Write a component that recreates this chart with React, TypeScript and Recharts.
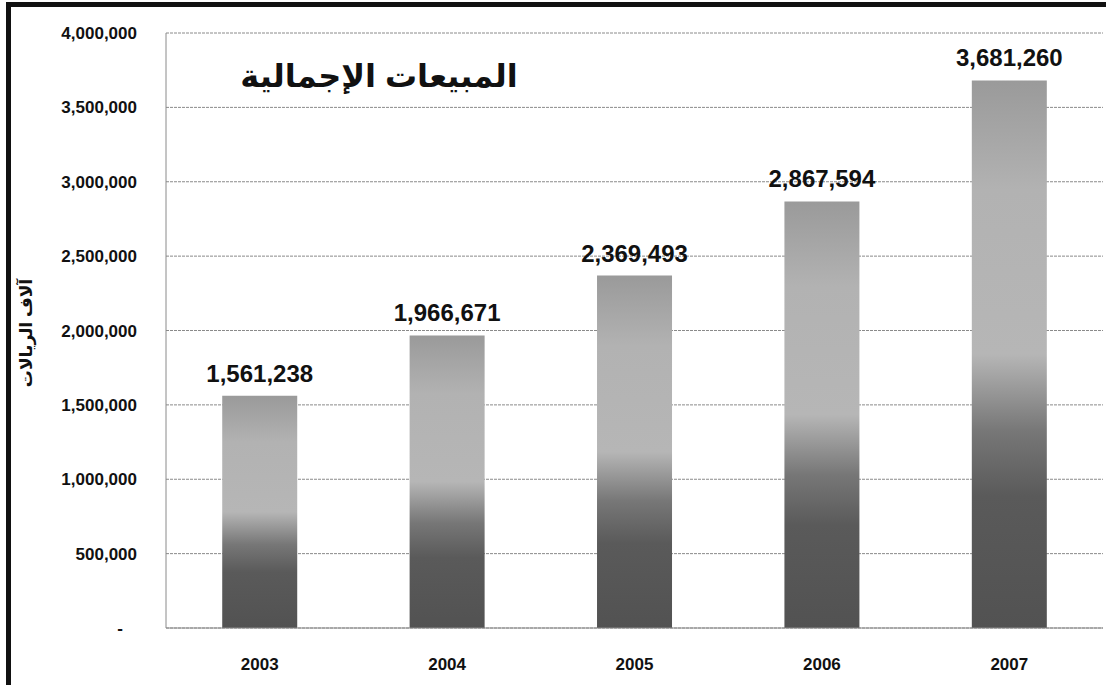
import React from 'react';
import { BarChart, Bar, XAxis, YAxis, CartesianGrid, LabelList } from 'recharts';

// Total sales, in thousands of riyals
const years = ['2003', '2004', '2005', '2006', '2007'];
const sales = [1561238, 1966671, 2369493, 2867594, 3681260];
const yTicks = [0, 500000, 1000000, 1500000, 2000000, 2500000, 3000000, 3500000, 4000000];

const chartTitle = 'المبيعات الإجمالية';
const yAxisTitle = 'آلاف الريالات';

const data = years.map((year, i) => ({ year, sales: sales[i] }));

const FONT = "'Liberation Sans', Arial, 'DejaVu Sans', sans-serif";

const fmt = (v: number) => (v === 0 ? '-\u00A0\u00A0\u00A0' : v.toLocaleString('en-US'));

const App: React.FC = () => {
  return (
    <div style={{ position: 'absolute', left: 0, top: 0, width: 1106, height: 685, background: '#fff', overflow: 'hidden' }}>
      <div
        style={{
          position: 'absolute',
          left: 6,
          top: 2,
          width: 1200,
          height: 800,
          borderLeft: '5px solid #111',
          borderTop: '5px solid #111',
        }}
      />
      <div
        dir="rtl"
        style={{
          position: 'absolute',
          left: 179,
          top: 52,
          width: 400,
          textAlign: 'center',
          whiteSpace: 'nowrap',
          fontFamily: FONT,
          fontWeight: 'bold',
          fontSize: 32,
          color: '#111',
          lineHeight: '48px',
          zIndex: 2,
        }}
      >
        {chartTitle}
      </div>
      <BarChart
        width={1106}
        height={685}
        data={data}
        margin={{ top: 33, right: 3, left: 0, bottom: 27 }}
        barCategoryGap="30%"
      >
        <defs>
          <linearGradient id="barShade" x1="0" y1="0" x2="0" y2="1">
            <stop offset="0%" stopColor="#9a9a9a" />
            <stop offset="20%" stopColor="#b2b2b2" />
            <stop offset="50%" stopColor="#b6b6b6" />
            <stop offset="64%" stopColor="#777777" />
            <stop offset="76%" stopColor="#5a5a5a" />
            <stop offset="100%" stopColor="#525252" />
          </linearGradient>
        </defs>
        <CartesianGrid vertical={false} stroke="#8a8a8a" strokeDasharray="3 1" />
        <XAxis
          dataKey="year"
          height={30}
          axisLine={{ stroke: '#8a8a8a' }}
          tickLine={false}
          tickMargin={24}
          tick={{ fontSize: 17, fontWeight: 'bold', fill: '#111', fontFamily: FONT }}
        />
        <YAxis
          width={166}
          domain={[0, 4000000]}
          ticks={yTicks}
          tickFormatter={fmt}
          axisLine={{ stroke: '#8a8a8a' }}
          tickLine={false}
          tickSize={0}
          tickMargin={29}
          tick={{ fontSize: 17, fontWeight: 'bold', fill: '#111', fontFamily: FONT }}
          label={{
            content: () => (
              <text
                x={28}
                y={333}
                transform="rotate(-90 28 333)"
                textAnchor="middle"
                dominantBaseline="middle"
                fontSize={17}
                fontWeight="bold"
                fill="#111"
                fontFamily={FONT}
              >
                {yAxisTitle}
              </text>
            ),
          }}
        />
        <Bar dataKey="sales" fill="url(#barShade)" isAnimationActive={false}>
          <LabelList
            dataKey="sales"
            position="top"
            offset={14}
            formatter={(v: any) => Number(v).toLocaleString('en-US')}
            style={{ fontSize: 24, fontWeight: 'bold', fill: '#111', fontFamily: FONT }}
          />
        </Bar>
      </BarChart>
    </div>
  );
};

export default App;
